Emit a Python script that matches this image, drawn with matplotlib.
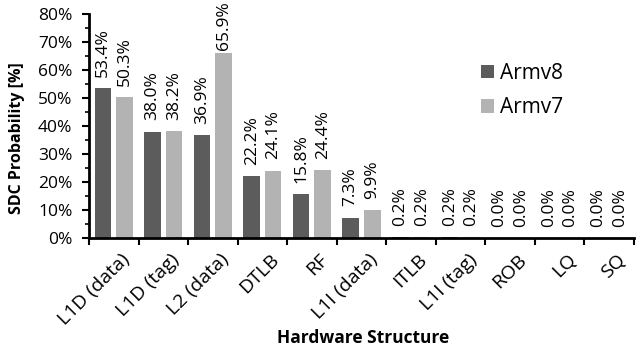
import matplotlib
matplotlib.use("Agg")
import matplotlib.pyplot as plt
import numpy as np
from matplotlib.ticker import PercentFormatter, MultipleLocator, FixedLocator

categories = ["L1D (data)", "L1D (tag)", "L2 (data)", "DTLB", "RF", "L1I (data)",
              "ITLB", "L1I (tag)", "ROB", "LQ", "SQ"]
armv8 = [53.4, 38.0, 36.9, 22.2, 15.8, 7.3, 0.2, 0.2, 0.0, 0.0, 0.0]
armv7 = [50.3, 38.2, 65.9, 24.1, 24.4, 9.9, 0.2, 0.2, 0.0, 0.0, 0.0]
series_names = ["Armv8", "Armv7"]

plt.rcParams['font.family'] = ['Open Sans', 'DejaVu Sans']

W, H = 636, 354
fig = plt.figure(figsize=(W/100, H/100), dpi=100)
ax = fig.add_axes([89/W, 1-238/H, (634-89)/W, (238-14)/H])

x = np.arange(len(categories))
w = 0.335
gap = 0.1
c8 = "#5c5c5c"
c7 = "#b3b3b3"
b1 = ax.bar(x - (w+gap)/2, armv8, w, color=c8, label=series_names[0])
b2 = ax.bar(x + (w+gap)/2, armv7, w, color=c7, label=series_names[1])

labels = []
for bars, vals in ((b1, armv8), (b2, armv7)):
    for r, v in zip(bars, vals):
        t = ax.annotate(f"{v:.1f}%", (r.get_x() + r.get_width()/2, r.get_height()),
                        xytext=(0, 8), textcoords="offset points",
                        rotation=90, ha="center", va="bottom", fontsize=12.5,
                        annotation_clip=False)
        labels.append(t)

ax.set_xlim(-0.5, len(categories) - 0.5)
ax.set_ylim(0, 80)
ax.yaxis.set_major_locator(MultipleLocator(10))
ax.yaxis.set_minor_locator(MultipleLocator(5))
ax.yaxis.set_major_formatter(PercentFormatter(decimals=0))
ax.tick_params(axis='y', labelsize=12.5, width=1.5, length=5, direction='out', pad=7)
ax.tick_params(axis='y', which='minor', width=1.2, length=3)

ax.set_xticks(x + 0.14)
ax.set_xticklabels(categories, rotation=45, ha='right', rotation_mode='anchor', fontsize=14)
ax.tick_params(axis='x', which='major', length=0, pad=9)
ax.xaxis.set_minor_locator(FixedLocator(np.arange(len(categories) + 1) - 0.5))
ax.tick_params(axis='x', which='minor', length=5, width=1.5, direction='out')

for s in ("top", "right"):
    ax.spines[s].set_visible(False)
for s in ("left", "bottom"):
    ax.spines[s].set_linewidth(2)

fig.text(17/W, 1-138/H, "SDC Probability [%]", rotation=90, ha='center', va='center',
         fontsize=11.5, fontweight='bold')
fig.text(363/W, 1-338/H, "Hardware Structure", ha='center', va='center',
         fontsize=12.5, fontweight='bold')

ax.legend(loc='center left', bbox_to_anchor=(0.685, 0.658), frameon=False, fontsize=15,
          handlelength=0.6, handleheight=0.6, handletextpad=0.3, labelspacing=0.65)

# keep labels inside the figure (clamp like the original)
fig.canvas.draw()
r = fig.canvas.get_renderer()
for t in labels:
    bb = t.get_window_extent(r)
    if bb.y1 > H - 1:
        dy = (bb.y1 - (H - 1)) * 72 / fig.dpi
        ox, oy = t.xyann
        t.xyann = (ox, oy - dy)

fig.savefig("out.png", dpi=100)
